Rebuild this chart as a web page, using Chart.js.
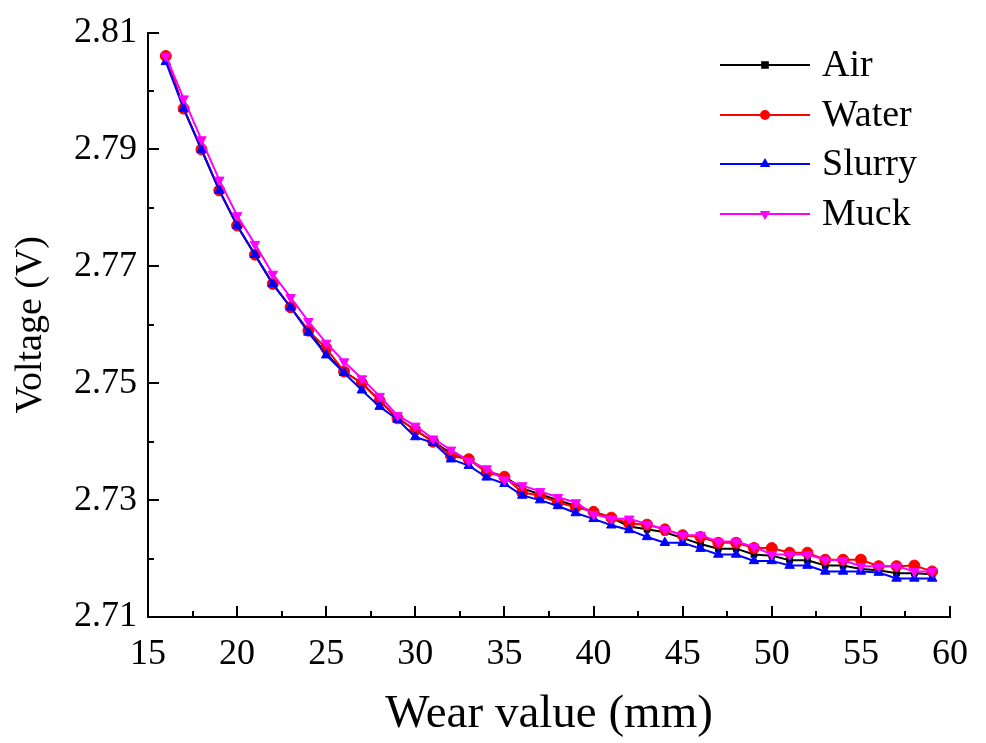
<!DOCTYPE html>
<html>
<head>
<meta charset="utf-8">
<script src="https://cdn.jsdelivr.net/npm/chart.js@4/dist/chart.umd.min.js"></script>
<style>
  html, body { margin: 0; padding: 0; background: #fff; }
  #wrap { width: 986px; height: 743px; }
</style>
</head>
<body>
<div id="wrap"><canvas id="voltChart" width="986" height="743"></canvas></div>
<script>
// wear value (mm)
const wear = [16, 17, 18, 19, 20, 21, 22, 23, 24, 25, 26, 27, 28, 29, 30, 31, 32, 33, 34, 35, 36, 37,
    38, 39, 40, 41, 42, 43, 44, 45, 46, 47, 48, 49, 50, 51, 52, 53, 54, 55, 56, 57, 58, 59];

// voltage (V) per medium
const airV = [2.806, 2.797, 2.790, 2.783, 2.777, 2.772, 2.767, 2.763, 2.759, 2.755, 2.752, 2.750,
    2.747, 2.744, 2.742, 2.740, 2.738, 2.737, 2.735, 2.734, 2.732, 2.731, 2.730, 2.729, 2.728, 2.727,
    2.7255, 2.725, 2.7245, 2.7235, 2.7225, 2.7217, 2.7217, 2.7207, 2.7205, 2.7197, 2.7197, 2.7188, 2.7188,
    2.7182, 2.718, 2.7175, 2.7175, 2.7173];
const waterV = [2.806, 2.797, 2.790, 2.783, 2.777, 2.772, 2.767, 2.763, 2.759, 2.756, 2.752, 2.750,
    2.747, 2.744, 2.742, 2.740, 2.7376, 2.737, 2.7347, 2.734, 2.7313, 2.7308, 2.7296, 2.7288, 2.728, 2.727,
    2.726, 2.7258, 2.725, 2.724, 2.7237, 2.7227, 2.7227, 2.7218, 2.7218, 2.721, 2.721, 2.7198, 2.7198,
    2.7198, 2.7187, 2.7187, 2.7188, 2.7178];
const slurryV = [2.805, 2.797, 2.790, 2.783, 2.777, 2.772, 2.767, 2.763, 2.7587, 2.7548, 2.7518, 2.7488,
    2.746, 2.7438, 2.7408, 2.7398, 2.737, 2.7359, 2.7339, 2.7328, 2.7308, 2.730, 2.729, 2.7278, 2.7268,
    2.7257, 2.7249, 2.7237, 2.7227, 2.7227, 2.7217, 2.7207, 2.7207, 2.7196, 2.7196, 2.7188, 2.7188,
    2.7178, 2.7178, 2.7178, 2.7176, 2.7166, 2.7166, 2.7166];
const muckV = [2.806, 2.7987, 2.7917, 2.7848, 2.7787, 2.7738, 2.7687, 2.7647, 2.7606, 2.7569, 2.7537,
    2.7508, 2.7478, 2.7445, 2.7427, 2.7405, 2.7386, 2.7367, 2.7354, 2.7335, 2.7325, 2.7315, 2.7305,
    2.7296, 2.7276, 2.7268, 2.7268, 2.7259, 2.725, 2.724, 2.724, 2.7229, 2.7229, 2.722, 2.7207, 2.7207,
    2.7207, 2.7198, 2.7197, 2.7187, 2.7187, 2.7187, 2.7178, 2.7178];

const xTicks = [15, 20, 25, 30, 35, 40, 45, 50, 55, 60];
const yTicks = [2.71, 2.73, 2.75, 2.77, 2.79, 2.81];

const serif = '"Liberation Serif", "DejaVu Serif", serif';

function toPoints(vals) {
    return vals.map((v, i) => ({ x: wear[i], y: v }));
}

// legend entries drawn by hand (line + marker + label)
const legendItems = [
    { label: 'Air', color: '#000000', style: 'rect', rot: 0 },
    { label: 'Water', color: '#ff0000', style: 'circle', rot: 0 },
    { label: 'Slurry', color: '#0000ff', style: 'triangle', rot: 0 },
    { label: 'Muck', color: '#ff00ff', style: 'triangle', rot: 180 },
];

// inward tick marks + legend
const decorPlugin = {
    id: 'decor',
    afterDraw(chart) {
        const ctx = chart.ctx;
        const xs = chart.scales.x;
        const ys = chart.scales.y;
        const area = chart.chartArea;
        ctx.save();
        ctx.strokeStyle = '#000';
        ctx.lineWidth = 2;
        ctx.beginPath();
        for (let v = 15; v <= 60; v += 2.5) {
            const px = Math.round(xs.getPixelForValue(v));
            const len = (v % 5 === 0) ? 11 : 6;
            ctx.moveTo(px, area.bottom);
            ctx.lineTo(px, area.bottom - len);
        }
        for (let k = 0; k <= 10; k++) {
            const v = 2.71 + k * 0.01;
            const py = Math.round(ys.getPixelForValue(v));
            const len = (k % 2 === 0) ? 11 : 6;
            ctx.moveTo(area.left, py);
            ctx.lineTo(area.left + len, py);
        }
        ctx.stroke();

        // legend
        const x0 = 720, x1 = 810, tx = 822;
        const rowY = [65, 115, 164, 214];
        legendItems.forEach((it, i) => {
            const y = rowY[i];
            ctx.strokeStyle = it.color;
            ctx.lineWidth = 2;
            ctx.beginPath();
            ctx.moveTo(x0, y);
            ctx.lineTo(x1, y);
            ctx.stroke();
            ctx.fillStyle = it.color;
            Chart.helpers.drawPoint(ctx, { pointStyle: it.style, radius: 4, rotation: it.rot, borderWidth: 1 },
                (x0 + x1) / 2, y);
            ctx.fillStyle = '#000';
            ctx.font = '38px ' + serif;
            ctx.textBaseline = 'middle';
            ctx.textAlign = 'left';
            ctx.fillText(it.label, tx, y + 1);
        });
        ctx.restore();
    }
};

function makeSet(label, vals, color, style, rot, order) {
    return {
        label: label,
        data: toPoints(vals),
        borderColor: color,
        backgroundColor: color,
        borderWidth: 2,
        pointStyle: style,
        rotation: rot,
        pointRadius: style === 'rect' ? 4 : 5.5,
        pointBorderWidth: 1,
        pointBackgroundColor: color,
        pointBorderColor: color,
        tension: 0,
        order: order,
    };
}

new Chart(document.getElementById('voltChart'), {
    type: 'line',
    data: {
        datasets: [
            makeSet('Air', airV, '#000000', 'rect', 0, 4),
            makeSet('Water', waterV, '#ff0000', 'circle', 0, 3),
            makeSet('Slurry', slurryV, '#0000ff', 'triangle', 0, 2),
            makeSet('Muck', muckV, '#ff00ff', 'triangle', 180, 1),
        ],
    },
    options: {
        responsive: false,
        animation: false,
        layout: { padding: { left: 0, right: 36, top: 26, bottom: 0 } },
        plugins: {
            legend: { display: false },
            tooltip: { enabled: false },
        },
        scales: {
            x: {
                type: 'linear',
                min: 15,
                max: 60,
                afterBuildTicks: (s) => { s.ticks = xTicks.map(v => ({ value: v })); },
                afterFit: (s) => { s.height = 126; },
                grid: { display: false, drawTicks: false },
                border: { display: true, color: '#000', width: 2 },
                ticks: {
                    color: '#000',
                    padding: 16,
                    maxRotation: 0,
                    font: { family: serif, size: 36 },
                },
                title: {
                    display: true,
                    text: 'Wear value (mm)',
                    color: '#000',
                    font: { family: serif, size: 47 },
                    padding: { top: 0, bottom: 0 },
                },
            },
            y: {
                type: 'linear',
                min: 2.71,
                max: 2.81,
                afterBuildTicks: (s) => { s.ticks = yTicks.map(v => ({ value: v })); },
                afterFit: (s) => { s.width = 148; },
                grid: { display: false, drawTicks: false },
                border: { display: true, color: '#000', width: 2 },
                ticks: {
                    color: '#000',
                    padding: 11,
                    font: { family: serif, size: 36 },
                    callback: (v) => v.toFixed(2),
                },
                title: {
                    display: true,
                    text: 'Voltage (V)',
                    color: '#000',
                    font: { family: serif, size: 38 },
                    padding: { top: 8, bottom: 0 },
                },
            },
        },
    },
    plugins: [decorPlugin],
});
</script>
</body>
</html>
